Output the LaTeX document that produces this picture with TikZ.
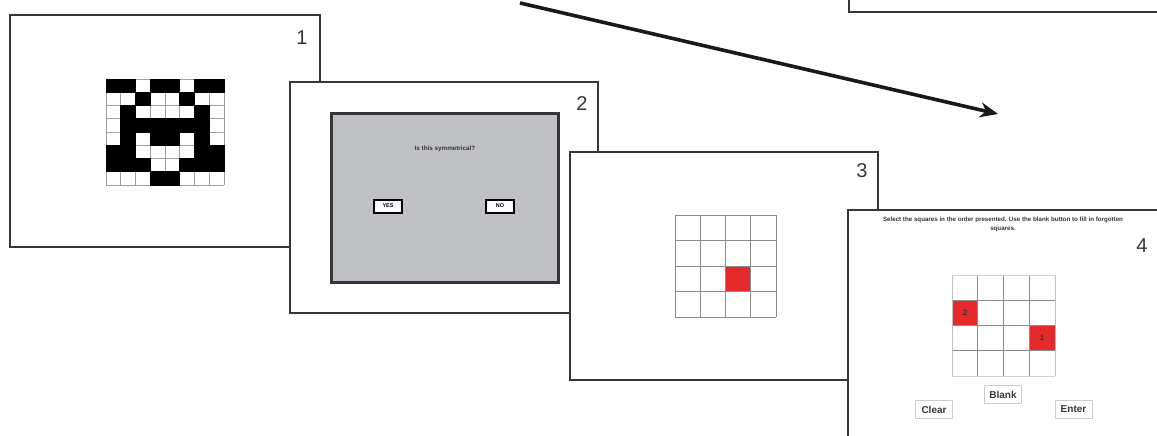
\documentclass[tikz,border=0pt]{standalone}
\usepackage{fontspec}
\setmainfont{Liberation Sans}
\usetikzlibrary{arrows.meta}

\definecolor{cellred}{HTML}{E42A2D}
\definecolor{screengray}{HTML}{C0C1C4}
\definecolor{inkgray}{HTML}{363636}

\begin{document}
\begin{tikzpicture}[x=1pt,y=-1pt,
	panel/.style={draw=inkgray, line width=1.6pt, fill=white},
	numlabel/.style={inner sep=0pt, text=inkgray, font=\fontsize{20}{24}\selectfont},
	gridline/.style={draw=gray!75, line width=0.9pt},
	yesno/.style={draw=black, fill=white, line width=2pt, minimum width=28pt, minimum height=13pt, inner sep=0pt, font=\fontsize{5.5}{6}\selectfont\bfseries},
	btn/.style={draw=gray!40, fill=white, line width=1pt, minimum width=37pt, minimum height=18pt, inner sep=0pt, text=inkgray, font=\fontsize{10}{12}\selectfont\bfseries}]
		\useasboundingbox (0,0) rectangle (1157,436);
		\clip (0,0) rectangle (1157,436);
		\fill[white] (0,0) rectangle (1157,436);
		\draw[panel] (849,-5) rectangle (1170,12);
		\coordinate (arrstart) at (520,3);
		\coordinate (arrend) at (998,114);
		\draw[line width=3.6pt, black!90, -{Stealth[length=18pt,width=15pt]}] (arrstart) -- (arrend);
		% screen 1
		\draw[panel] (10,15) rectangle (320,247);
		\node[numlabel] (n1) at (302,38) {1};
		\foreach \i in {0,...,8} {
			\draw[gridline] (106+\i*14.75,79) -- (106+\i*14.75,185);
			\draw[gridline] (106,79+\i*13.25) -- (224,79+\i*13.25);
		}
		\foreach \row [count=\r from 0] in {{1,1,0,1,1,0,1,1},{0,0,1,0,0,1,0,0},{0,1,0,0,0,0,1,0},{0,1,1,1,1,1,1,0},{0,1,0,1,1,0,1,0},{1,1,0,0,0,0,1,1},{1,1,1,0,0,1,1,1},{0,0,0,1,1,0,0,0}} {
			\foreach \b [count=\c from 0] in \row {
				\ifnum\b=1 \filldraw[black, line width=0.9pt] (106+\c*14.75,79+\r*13.25) rectangle ++(14.75,13.25);\fi
			}
		}
		% screen 2
		\draw[panel] (290,82) rectangle (598,313);
		\node[numlabel] (n2) at (582,104) {2};
		\filldraw[fill=screengray, draw=inkgray, line width=3pt] (331,113) rectangle (558,282);
		\node[text=inkgray, font=\fontsize{6.3}{7}\selectfont\bfseries] (ask) at (445,149) {Is this symmetrical?};
		\node[yesno] (yes) at (388,206) {YES};
		\node[yesno] (no) at (500,206) {NO};
		% screen 3
		\draw[panel] (570,152) rectangle (878,380);
		\node[numlabel] (n3) at (862,171) {3};
		\fill[cellred] (725.5,266) rectangle ++(25.25,25.5);
		\foreach \i in {0,...,4} {
			\draw[gridline, draw=gray!90] (675+\i*25.25,215) -- (675+\i*25.25,317);
			\draw[gridline, draw=gray!90] (675,215+\i*25.5) -- (776,215+\i*25.5);
		}
		% screen 4
		\draw[panel] (848,210) rectangle (1170,450);
		\node[numlabel] (n4) at (1142,246) {4};
		\node[align=center, text=inkgray, font=\fontsize{6.2}{9}\selectfont\bfseries] (instr) at (1003,224) {Select the squares in the order presented. Use the blank button to fill in forgotten\\squares.};
		\fill[cellred] (952,300.25) rectangle ++(25.75,25.25);
		\fill[cellred] (1029.25,325.5) rectangle ++(25.75,25.25);
		\foreach \i in {1,2,3} {
			\draw[gridline, draw=gray!90] (952+\i*25.75,275) -- (952+\i*25.75,376);
			\draw[gridline, draw=gray!90] (952,275+\i*25.25) -- (1055,275+\i*25.25);
		}
		\foreach \i in {0,4} {
			\draw[gridline, draw=gray!50] (952+\i*25.75,275) -- (952+\i*25.75,376);
			\draw[gridline, draw=gray!35] (952,275+\i*25.25) -- (1055,275+\i*25.25);
		}
		\node[text=inkgray, font=\fontsize{8}{9}\selectfont\bfseries] (sel2) at (965,313) {2};
		\node[text=inkgray, font=\fontsize{8}{9}\selectfont\bfseries] (sel1) at (1042,338) {1};
		\node[btn] (blank) at (1003,394.5) {Blank};
		\node[btn] (clear) at (934,409.5) {Clear};
		\node[btn] (enter) at (1073.5,409.5) {Enter};
\end{tikzpicture}
\end{document}
